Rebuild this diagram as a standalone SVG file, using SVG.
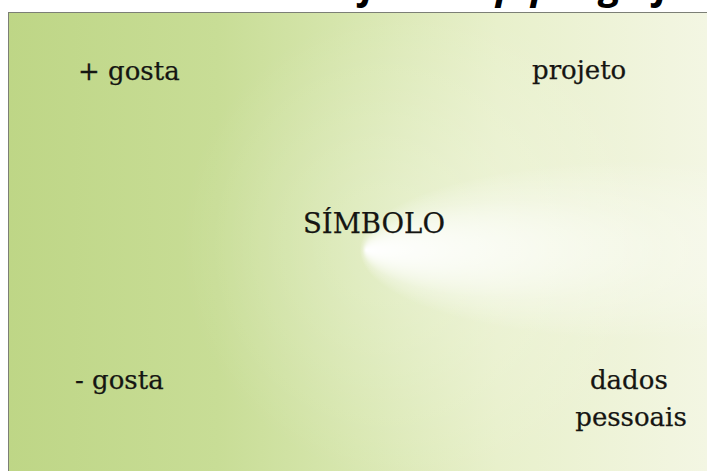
<svg xmlns="http://www.w3.org/2000/svg" width="707" height="471" viewBox="0 0 707 471">
  <defs>
    <!-- base wash: green on the left fading to pale cream on the right -->
    <linearGradient id="wash" x1="8" y1="0" x2="707" y2="0" gradientUnits="userSpaceOnUse">
      <stop offset="0" stop-color="#bed686"/>
      <stop offset="0.3" stop-color="#c8dd96"/>
      <stop offset="0.5" stop-color="#d8e7b0"/>
      <stop offset="0.7" stop-color="#e8f0cb"/>
      <stop offset="1" stop-color="#f3f6e3"/>
    </linearGradient>
    <!-- narrow bright streak opening to the right of the centre -->
    <radialGradient id="glow" gradientUnits="userSpaceOnUse" cx="640" cy="250" r="280" fx="366" fy="250"
                    gradientTransform="translate(366,250) scale(1,0.32) translate(-366,-250)">
      <stop offset="0" stop-color="#ffffff" stop-opacity="1"/>
      <stop offset="0.2" stop-color="#ffffff" stop-opacity="0.75"/>
      <stop offset="0.55" stop-color="#ffffff" stop-opacity="0.3"/>
      <stop offset="1" stop-color="#ffffff" stop-opacity="0"/>
    </radialGradient>
    <!-- soft lightening around the middle -->
    <radialGradient id="halo" gradientUnits="userSpaceOnUse" cx="420" cy="245" r="240">
      <stop offset="0" stop-color="#ffffff" stop-opacity="0.3"/>
      <stop offset="1" stop-color="#ffffff" stop-opacity="0"/>
    </radialGradient>
    <style>
      .lbl { font-family: "DejaVu Serif", "Liberation Serif", serif; font-size: 26px; fill: #151512; stroke: #151512; stroke-width: 0.25; }
      .big { font-size: 27.5px; }
      .head { font-family: "Open Sans", "DejaVu Sans", sans-serif; font-size: 40px; font-weight: bold; font-style: italic; fill: #000; }
    </style>
  </defs>

  <rect x="0" y="0" width="707" height="471" fill="#ffffff"/>

  <!-- heading line above the panel, mostly outside the frame -->
  <g id="heading">
    <text class="head" x="362" y="-1">j</text>
    <text class="head" x="496" y="-1">p</text>
    <text class="head" x="531" y="-1">p</text>
    <text class="head" x="600" y="-1">g</text>
    <text class="head" x="656" y="-1">j</text>
  </g>

  <!-- panel -->
  <g id="panel">
    <rect x="8.5" y="12.5" width="710" height="470" fill="url(#wash)"/>
    <rect x="8.5" y="12.5" width="710" height="470" fill="url(#halo)"/>
    <rect x="8.5" y="12.5" width="710" height="470" fill="url(#glow)"/>
    <rect x="8.5" y="12.5" width="710" height="470" fill="none" stroke="#7c7f76" stroke-width="1"/>
  </g>

  <g id="connectors"/>

  <g id="node-mais-gosta">
    <text class="lbl" x="78" y="80">+ gosta</text>
  </g>
  <g id="node-projeto">
    <text class="lbl" x="532" y="79">projeto</text>
  </g>
  <g id="node-simbolo">
    <text class="lbl big" x="303" y="233">SÍMBOLO</text>
  </g>
  <g id="node-menos-gosta">
    <text class="lbl" x="75" y="389">- gosta</text>
  </g>
  <g id="node-dados-pessoais">
    <text class="lbl" text-anchor="middle">
      <tspan x="633" y="389">dados</tspan>
      <tspan x="631" y="426">pessoais</tspan>
    </text>
  </g>
</svg>
